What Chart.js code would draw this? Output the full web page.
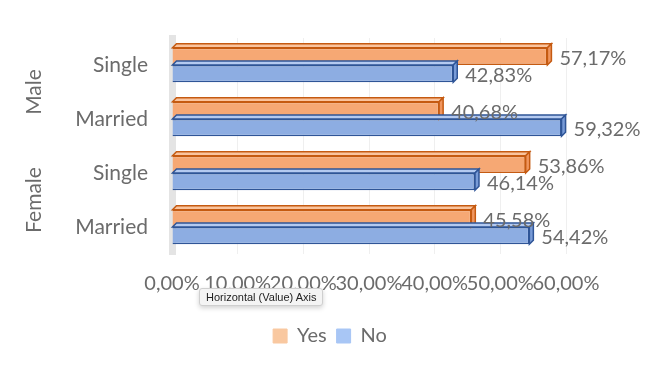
<!DOCTYPE html>
<html>
<head>
<meta charset="utf-8">
<script src="https://cdn.jsdelivr.net/npm/chart.js@4/dist/chart.umd.min.js"></script>
<style>
  html, body { margin: 0; padding: 0; background: #fff; }
  #wrap { position: relative; width: 645px; height: 368px; }
  #tip {
    position: absolute; left: 199px; top: 288px;
    padding: 2px 6px; font: 11px "Liberation Sans", Arial, sans-serif; color: #222;
    background: #f4f4f4; border: 1px solid #cfcfcf; border-radius: 3px;
    box-shadow: 0 2px 5px rgba(0,0,0,0.18);
  }
</style>
</head>
<body>
<div id="wrap">
  <canvas id="grafico" width="645" height="368"></canvas>
  <div id="tip">Horizontal (Value) Axis</div>
</div>
<script>
// dados
var categorias = ["Single", "Married", "Single", "Married"];
var grupos = ["Male", "Female"];
var valores_yes = [57.17, 40.68, 53.86, 45.58];
var valores_no = [42.83, 59.32, 46.14, 54.42];
var eixo_min = 0;
var eixo_max = 60;
var eixo_passo = 10;

var cinza = "#6b6b6b";
var fonte = "Lato, 'Open Sans', sans-serif";
var prof = 4; // profundidade do efeito 3D

function formatar(v) {
  return v.toFixed(2).replace(".", ",") + "%";
}

// faces de cima e da direita das barras (efeito 3D)
var barras3d = {
  id: "barras3d",
  afterDatasetsDraw: function (chart) {
    var ctx = chart.ctx;
    chart.data.datasets.forEach(function (ds, i) {
      var meta = chart.getDatasetMeta(i);
      meta.data.forEach(function (bar) {
        var topo = bar.y - bar.height / 2;
        var fundo = bar.y + bar.height / 2;
        ctx.save();
        ctx.lineWidth = 1.5;
        ctx.strokeStyle = ds.borderColor;
        ctx.fillStyle = ds.topColor;
        ctx.beginPath();
        ctx.moveTo(bar.base, topo);
        ctx.lineTo(bar.base + prof, topo - prof);
        ctx.lineTo(bar.x + prof, topo - prof);
        ctx.lineTo(bar.x, topo);
        ctx.closePath();
        ctx.fill();
        ctx.stroke();
        ctx.fillStyle = ds.sideColor;
        ctx.beginPath();
        ctx.moveTo(bar.x, topo);
        ctx.lineTo(bar.x + prof, topo - prof);
        ctx.lineTo(bar.x + prof, fundo - prof);
        ctx.lineTo(bar.x, fundo);
        ctx.closePath();
        ctx.fill();
        ctx.stroke();
        ctx.restore();
      });
    });
  },
};

// rotulos de valor na ponta das barras
var rotulos = {
  id: "rotulos",
  afterDraw: function (chart) {
    var ctx = chart.ctx;
    ctx.save();
    ctx.font = "20px " + fonte;
    ctx.fillStyle = cinza;
    ctx.textAlign = "left";
    ctx.textBaseline = "middle";
    chart.data.datasets.forEach(function (ds, i) {
      var meta = chart.getDatasetMeta(i);
      meta.data.forEach(function (bar, j) {
        ctx.fillText(formatar(ds.data[j]), bar.x + 12, bar.y + 2);
      });
    });
    ctx.restore();
  },
};

// legenda centrada na largura toda do canvas
var centrarLegenda = {
  id: "centrarLegenda",
  afterLayout: function (chart) {
    var desvio = 38;
    chart.legend.left += desvio;
    chart.legend.right += desvio;
  },
};

var dados_grafico = {
  type: "bar",
  data: {
    labels: categorias,
    datasets: [
      {
        label: "Yes",
        data: valores_yes,
        backgroundColor: "rgb(246, 168, 116)",
        borderColor: "rgb(197, 90, 17)",
        topColor: "rgb(250, 196, 158)",
        sideColor: "rgb(240, 150, 95)",
        legendColor: "rgb(249, 200, 160)",
        borderWidth: 1.5,
      },
      {
        label: "No",
        data: valores_no,
        backgroundColor: "rgb(141, 173, 226)",
        borderColor: "rgb(47, 85, 151)",
        topColor: "rgb(180, 202, 240)",
        sideColor: "rgb(120, 155, 215)",
        legendColor: "rgb(168, 198, 245)",
        borderWidth: 1.5,
      },
    ],
  },
  options: {
    indexAxis: "y",
    responsive: false,
    animation: false,
    layout: {
      padding: { top: 38, left: 18, right: 79, bottom: 12 },
    },
    datasets: {
      bar: { categoryPercentage: 0.64, barPercentage: 1 },
    },
    scales: {
      x: {
        min: eixo_min,
        max: eixo_max,
        ticks: {
          stepSize: eixo_passo,
          autoSkip: false,
          maxRotation: 0,
          padding: 18,
          color: cinza,
          font: { family: fonte, size: 20 },
          callback: function (v) {
            return formatar(v);
          },
        },
        grid: { color: "#efefef", drawTicks: false },
        border: { display: false },
        afterFit: function (eixo) {
          eixo.height = 62;
        },
      },
      y: {
        weight: 0,
        ticks: {
          padding: 16,
          color: cinza,
          font: { family: fonte, size: 21 },
        },
        grid: { display: false },
        border: { color: "#e4e4e4", width: 7 },
        afterFit: function (eixo) {
          eixo.width = 118;
        },
      },
      grupo: {
        type: "category",
        labels: grupos,
        position: "left",
        axis: "y",
        weight: 1,
        offset: true,
        ticks: {
          minRotation: 90,
          maxRotation: 90,
          crossAlign: "center",
          padding: -21,
          color: cinza,
          font: { family: fonte, size: 21 },
        },
        grid: { display: false },
        border: { display: false },
        afterFit: function (eixo) {
          eixo.width = 36;
        },
      },
    },
    plugins: {
      tooltip: { enabled: false },
      legend: {
        position: "bottom",
        labels: {
          color: cinza,
          font: { family: fonte, size: 20 },
          boxWidth: 14,
          boxHeight: 14,
          padding: 10,
          generateLabels: function (chart) {
            return chart.data.datasets.map(function (ds, i) {
              return {
                text: ds.label,
                fillStyle: ds.legendColor,
                strokeStyle: ds.legendColor,
                lineWidth: 1,
                fontColor: cinza,
                datasetIndex: i,
              };
            });
          },
        },
      },
    },
  },
  plugins: [barras3d, rotulos, centrarLegenda],
};

var ctx = document.getElementById("grafico");
var chart_grafico = new Chart(ctx, dados_grafico);
</script>
</body>
</html>
